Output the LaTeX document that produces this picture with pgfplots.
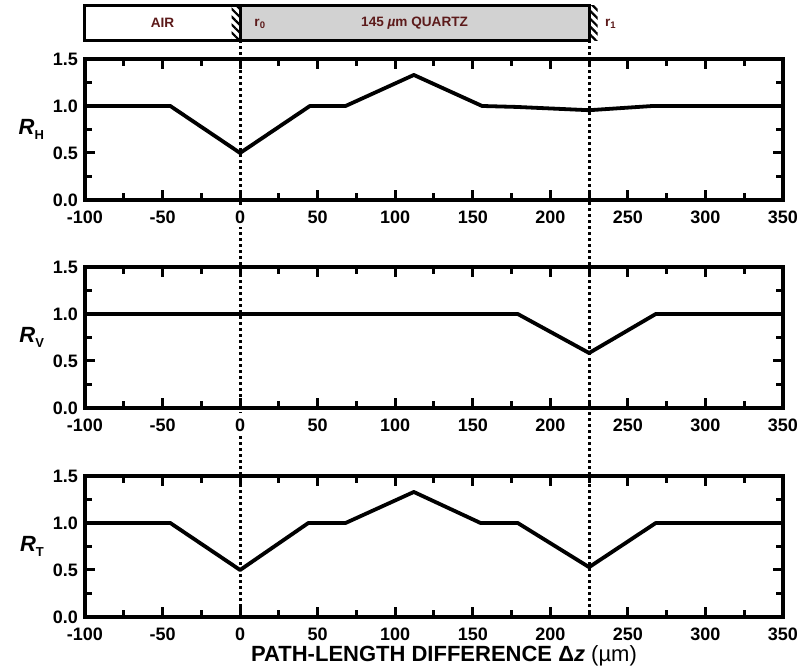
\documentclass[border=0pt]{standalone}
\usepackage{fontspec}
\setmainfont{Liberation Sans}
\usepackage{pgfplots}
\pgfplotsset{compat=1.18}
\usetikzlibrary{patterns.meta,backgrounds,calc}
\definecolor{txtred}{HTML}{5C1A1A}
\definecolor{qgray}{HTML}{D2D2D2}

\pgfplotsset{
  panel/.style={
    scale only axis, width=349pt, height=70.5pt,
    xmin=-100, xmax=350, ymin=0, ymax=1.5,
    xtick={-100,-50,...,350}, minor x tick num=1,
    ytick={0,0.5,1,1.5}, minor y tick num=1,
    tick align=inside, major tick length=5pt, minor tick length=3.5pt,
    every tick/.style={line width=1.5pt, black},
    axis line style={line width=1.7pt},
    tick label style={font=\fontsize{9}{10}\selectfont\bfseries},
    xticklabel style={yshift=-2pt},
    /pgf/number format/assume math mode=true,
    yticklabel style={/pgf/number format/fixed, /pgf/number format/fixed zerofill,
                      /pgf/number format/precision=1},
    every axis y label/.style={at={(rel axis cs:0,0.5)}, anchor=east, xshift=-17pt},
    clip=false,
  },
  curve/.style={black, line width=1.9pt, line join=round, mark=none},
}
\newcommand{\Rlab}[1]{\fontsize{11}{12}\selectfont\bfseries\itshape R\raisebox{-0.4ex}{\upshape\fontsize{6.5}{7}\selectfont #1}}

\begin{document}
\begin{tikzpicture}
% R_H
\begin{axis}[panel, at={(0pt,208.5pt)}, anchor=south west, ylabel={\Rlab{H}}]
\addplot[curve] coordinates {
 (-100,1) (-45,1) (0,0.50) (45,1) (68,1) (112,1.33) (156,1) (178,0.99)
 (225,0.955) (266,1) (350,1)};
% sample bar
\draw[line width=1.5pt, fill=white] (axis cs:-100,1.70) rectangle (axis cs:0,2.07);
\draw[line width=1.5pt, fill=qgray] (axis cs:0,1.70) rectangle (axis cs:225,2.07);
\fill[pattern={Lines[angle=-45, distance=2.8pt, line width=1.1pt]}]
  (axis cs:-5.5,1.70) rectangle (axis cs:0,2.07);
\fill[pattern={Lines[angle=-45, distance=2.8pt, line width=1.1pt]}]
  (axis cs:225,1.70) rectangle (axis cs:230.5,2.07);
\begin{scope}[every node/.style={font=\fontsize{6.8}{8}\selectfont\bfseries, text=txtred}]
\node at (axis cs:-50,1.885) {AIR};
\node at (axis cs:112.5,1.885) {145 {\itshape µ}m QUARTZ};
\node at (axis cs:13,1.875) {r\textsubscript{0}};
\node at (axis cs:239,1.875) {r\textsubscript{1}};
\end{scope}
\coordinate (t0) at (axis cs:0,1.70);
\coordinate (t1) at (axis cs:225,1.70);
\coordinate (p1) at (axis cs:0,0);
\end{axis}
% R_V
\begin{axis}[panel, at={(0pt,104.5pt)}, anchor=south west, ylabel={\Rlab{V}}]
\addplot[curve] coordinates {
 (-100,1) (179,1) (225,0.585) (268,1) (350,1)};
\coordinate (p2) at (axis cs:0,0);
\end{axis}
% R_T
\begin{axis}[panel, at={(0pt,0pt)}, anchor=south west, ylabel={\Rlab{T}},
  xlabel={PATH-LENGTH DIFFERENCE Δ\textit{z} {\mdseries (µm)}},
  xlabel style={font=\fontsize{11}{13}\selectfont\bfseries, yshift=4.5pt, xshift=5pt}]
\addplot[curve] coordinates {
 (-100,1) (-45,1) (0,0.50) (44,1) (68,1) (112,1.33) (155,1) (179,1)
 (225,0.53) (268,1) (350,1)};
\coordinate (b0) at (axis cs:0,0);
\coordinate (b1) at (axis cs:225,0);
\end{axis}
\begin{scope}[on background layer]
\draw[line width=1.5pt, dash pattern=on 1.5pt off 1.5pt] (t0) -- (b0);
\draw[line width=1.5pt, dash pattern=on 1.5pt off 1.5pt] (t1) -- (b1);
\fill[white] ($(p1)+(-4pt,-2.5pt)$) rectangle ($(p1)+(4pt,-13.5pt)$);
\fill[white] ($(p2)+(-4pt,-2.5pt)$) rectangle ($(p2)+(4pt,-13.5pt)$);
\end{scope}
\pgfresetboundingbox
\path[use as bounding box] (-42.5pt,-27.5pt) rectangle (362.5pt,308.5pt);
\end{tikzpicture}
\end{document}
